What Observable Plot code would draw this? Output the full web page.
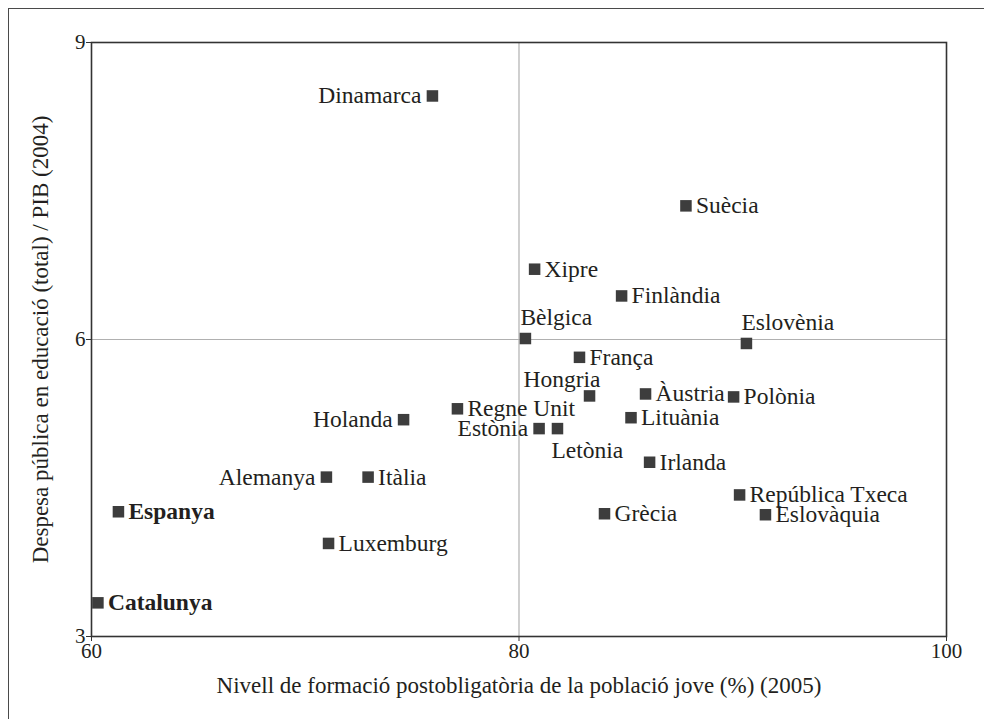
<!DOCTYPE html>
<html><head><meta charset="utf-8">
<script src="https://cdn.jsdelivr.net/npm/d3@7"></script>
<script src="https://cdn.jsdelivr.net/npm/@observablehq/plot@0.6"></script>
<style>
html,body{margin:0;padding:0;background:#fff;overflow:hidden;}
#wrap{position:relative;width:984px;height:719px;overflow:hidden;}
#wrap svg{display:block;}
#border{position:absolute;left:8px;top:8px;width:1100px;height:900px;border:1.5px solid #4a4a4a;pointer-events:none;}
</style></head><body>
<div id="wrap"><div id="chart"></div><div id="border"></div></div>
<script>
const countries = ["Dinamarca","Suècia","Xipre","Finlàndia","Bèlgica","Eslovènia","França","Hongria","Àustria","Polònia","Holanda","Regne Unit","Lituània","Estònia","Letònia","Irlanda","Alemanya","Itàlia","Espanya","República Txeca","Grècia","Eslovàquia","Luxemburg","Catalunya"];
const formation = [75.95,87.81,80.73,84.80,80.30,90.64,82.83,83.30,85.92,90.04,74.60,77.12,85.24,80.94,81.80,86.11,70.99,72.94,61.26,90.32,84.00,91.53,71.09,60.30];
const spending = [8.46,7.35,6.71,6.44,6.01,5.96,5.82,5.43,5.45,5.42,5.19,5.30,5.21,5.10,5.10,4.76,4.61,4.61,4.26,4.43,4.24,4.23,3.94,3.34];
const labelSide = ["left","right","right","right","top","top","right","topleft","right","right","left","right","right","left","bottom","right","left","right","right","right","right","right","right","right"];
const boldNames = ["Espanya","Catalunya"];
const xTicks = [60,80,100];
const yTicks = [3,6,9];
const xRefLine = [80];
const yRefLine = [6];
const xTitle = "Nivell de formació postobligatòria de la població jove (%) (2005)";
const yTitle = "Despesa pública en educació (total) / PIB (2004)";

const data = countries.map((c,i)=>({country:c, x:formation[i], y:spending[i], side:labelSide[i], bold:boldNames.includes(c)}));

const FONT = "Liberation Serif";
const INK = "#231f20";
const sideOpts = {
  right:   {textAnchor:"start", dx:10, dy:0},
  left:    {textAnchor:"end",   dx:-11, dy:0},
  top:     {textAnchor:"start", dx:-5, dy:-21},
  topleft: {textAnchor:"end",   dx:11, dy:-16},
  bottom:  {textAnchor:"start", dx:-6, dy:22}
};
const labelMarks = [];
for (const side of Object.keys(sideOpts)) {
  for (const b of [false,true]) {
    const subset = data.filter(d=>d.side===side && d.bold===b);
    if (!subset.length) continue;
    labelMarks.push(Plot.text(subset, {x:"x", y:"y", text:"country", ...sideOpts[side],
      lineAnchor:"middle", fontSize:23.5, fontFamily:FONT, fontWeight: b ? "bold" : "normal", fill:INK}));
  }
}

const chart = Plot.plot({
  width:984, height:719,
  marginLeft:91, marginRight:38, marginTop:42, marginBottom:83,
  style:{fontFamily:FONT, background:"#fff", color:INK, overflow:"visible"},
  x:{domain:[60,100]},
  y:{domain:[3,9]},
  marks:[
    Plot.ruleX(xRefLine, {stroke:"#b0b0b0", strokeWidth:1.2}),
    Plot.ruleY(yRefLine, {stroke:"#b0b0b0", strokeWidth:1.2}),
    Plot.frame({stroke:"#333", strokeWidth:1.6}),
    Plot.axisX({ticks:xTicks, tickFormat:d=>String(d), tickSize:5, tickPadding:2, fontSize:21, fontFamily:FONT, label:null, stroke:"#333"}),
    Plot.axisY({ticks:yTicks, tickFormat:d=>String(d), tickSize:5, tickPadding:1, fontSize:21, fontFamily:FONT, label:null, stroke:"#333"}),
    Plot.dot(data, {x:"x", y:"y", symbol:"square", r:6.5, fill:"#3d3d3d", stroke:null}),
    ...labelMarks,
    Plot.text([xTitle], {frameAnchor:"bottom", dy:49, textAnchor:"middle", lineAnchor:"middle", fontSize:23, fontFamily:FONT, fill:INK}),
    Plot.text([yTitle], {frameAnchor:"left", dx:-51, rotate:-90, textAnchor:"middle", lineAnchor:"middle", fontSize:23, fontFamily:FONT, fill:INK})
  ]
});
document.getElementById("chart").appendChild(chart);
</script>
</body></html>
